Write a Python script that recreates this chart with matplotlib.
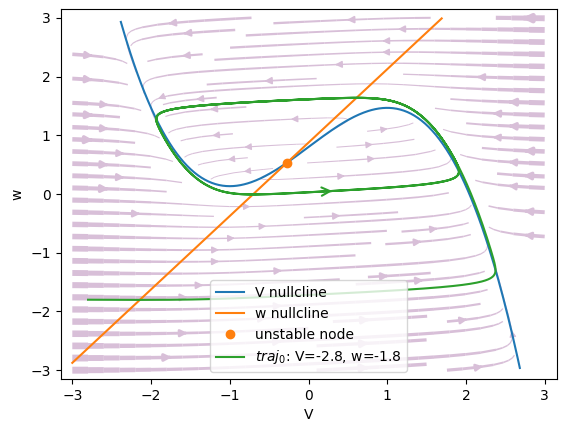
import matplotlib
matplotlib.use("Agg")
import matplotlib.pyplot as plt
import numpy as np

# FitzHugh-Nagumo parameters
I_ext = 0.8
a = 0.7
b = 0.8
eps = 0.08

V0, w0 = -2.8, -1.8
t_end = 100.0
dt = 0.01

v_range = (-3.0, 3.0)
w_range = (-3.0, 3.0)


def rhs(V, w):
    dV = V - V**3 / 3 - w + I_ext
    dw = eps * (V + a - b * w)
    return dV, dw


def integrate(V, w):
    n = int(t_end / dt)
    out = np.empty((n + 1, 2))
    out[0] = V, w
    for i in range(n):
        k1 = np.array(rhs(V, w))
        k2 = np.array(rhs(V + dt / 2 * k1[0], w + dt / 2 * k1[1]))
        k3 = np.array(rhs(V + dt / 2 * k2[0], w + dt / 2 * k2[1]))
        k4 = np.array(rhs(V + dt * k3[0], w + dt * k3[1]))
        V, w = np.array([V, w]) + dt / 6 * (k1 + 2 * k2 + 2 * k3 + k4)
        out[i + 1] = V, w
    return out


fig = plt.figure(figsize=(5.65, 4.32), dpi=100)
ax = fig.add_axes([60.5 / 565, 53 / 432, 496 / 565, 370 / 432])

# vector field
vv = np.linspace(*v_range, 100)
ww = np.linspace(*w_range, 100)
VV, WW = np.meshgrid(vv, ww)
dV, dW = rhs(VV, WW)
speed = np.sqrt(dV**2 + dW**2)
ax.streamplot(VV, WW, dV, dW, color="thistle",
              linewidth=0.6 + 4.4 * speed / speed.max(), density=1)

# nullclines
v = np.linspace(*v_range, 400)
w_v = v - v**3 / 3 + I_ext
w_w = (v + a) / b
mask_v = (w_v >= w_range[0]) & (w_v <= w_range[1])
mask_w = (w_w >= w_range[0]) & (w_w <= w_range[1])
ax.plot(v[mask_v], w_v[mask_v], label="V nullcline")
ax.plot(v[mask_w], w_w[mask_w], label="w nullcline")

# fixed point
roots = np.roots([-1 / 3, 0, 1 - 1 / b, I_ext - a / b])
v_fp = roots[np.isreal(roots)].real[0]
ax.plot(v_fp, (v_fp + a) / b, "o", color="C1", label="unstable node")

# trajectory
traj = integrate(V0, w0)
ax.plot(traj[:, 0], traj[:, 1], color="C2", label=f"$traj_0$: V={V0}, w={w0}")
idx = np.where((traj[:-1, 0] < 0.3) & (traj[1:, 0] >= 0.3) & (traj[:-1, 1] > -0.5))[0][0]
ax.annotate("", xy=traj[idx + 1], xytext=traj[idx],
            arrowprops=dict(arrowstyle="->", color="C2", lw=1.5, mutation_scale=15))

ax.set_xlim(-3.15, 3.15)
ax.set_ylim(-3.15, 3.15)
ax.set_xlabel("V")
ax.set_ylabel("w")
ax.legend(loc="lower center")

fig.savefig("out.png", dpi=100)
